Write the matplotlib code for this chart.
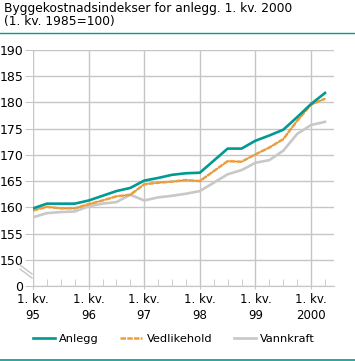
import matplotlib
matplotlib.use("Agg")
import matplotlib.pyplot as plt
from matplotlib.lines import Line2D

# quarterly index values, 1. kv. 1995 .. 2. kv. 2000
anlegg = [159.8, 160.7, 160.7, 160.7, 161.3, 162.2, 163.1, 163.7,
          165.1, 165.6, 166.2, 166.5, 166.6, 168.9, 171.2, 171.2,
          172.7, 173.7, 174.8, 177.2, 179.7, 181.8]
vedlikehold = [159.4, 160.1, 159.8, 159.8, 160.6, 161.3, 162.1, 162.4,
               164.4, 164.7, 164.9, 165.2, 165.0, 166.9, 168.8, 168.7,
               170.1, 171.4, 173.0, 176.5, 179.6, 180.7]
vannkraft = [158.1, 158.9, 159.1, 159.2, 160.2, 160.7, 161.0, 162.4,
             161.3, 161.9, 162.2, 162.6, 163.1, 164.7, 166.3, 167.1,
             168.5, 169.0, 170.8, 174.0, 175.7, 176.3]
year_labels = ["1. kv.\n95", "1. kv.\n96", "1. kv.\n97", "1. kv.\n98",
               "1. kv.\n99", "1. kv.\n2000"]
y_ticks = [145, 150, 155, 160, 165, 170, 175, 180, 185, 190]
y_labels = ["0", "150", "155", "160", "165", "170", "175", "180", "185", "190"]

TEAL = "#009a93"
ORANGE = "#f49c35"
GRAY = "#c8c8c8"
GRID = "#c6c6c6"

plt.rcParams["font.family"] = ["DejaVu Sans"]

fig = plt.figure(figsize=(3.55, 3.61), dpi=100)
ax = fig.add_axes([33 / 355, 75 / 361, 301 / 355, 236 / 361])

x = list(range(len(anlegg)))
ax.plot(x, vannkraft, color=GRAY, lw=1.9, solid_joinstyle="round")
ax.plot(x, vedlikehold, color="#7f9a6a", lw=0.8)
ax.plot(x, vedlikehold, color=ORANGE, lw=1.8, ls=(0, (2.2, 0.5)))
ax.plot(x, anlegg, color=TEAL, lw=1.9, solid_joinstyle="round")

ax.set_xlim(0, 21.65)
ax.set_ylim(145, 190)
ax.set_yticks(y_ticks)
ax.set_yticklabels(y_labels)
ax.set_xticks([0, 4, 8, 12, 16, 20])
ax.set_xticklabels(year_labels, linespacing=1.3)
ax.set_xticks(range(1, 22), minor=True)

ax.grid(True, color=GRID, lw=1.0)
ax.set_axisbelow(True)
for side in ("top", "right", "left"):
    ax.spines[side].set_visible(False)
ax.spines["bottom"].set_color(GRID)
ax.tick_params(axis="y", length=6, color=GRID, labelsize=9, pad=1)
ax.tick_params(axis="x", which="major", length=2, color=GRID, labelsize=8.5, pad=3)
ax.tick_params(axis="x", which="minor", direction="in", length=5, color=GRID)

# axis break between 0 and 150
for dy in (0, 4):
    fig.add_artist(Line2D([20 / 355, 32 / 355],
                          [1 - (265 + dy) / 361, 1 - (274 + dy) / 361],
                          color=GRID, lw=1.0))

fig.text(4 / 355, 1 - 2 / 361,
         "Byggekostnadsindekser for anlegg. 1. kv. 2000\n(1. kv. 1985=100)",
         ha="left", va="top", fontsize=8.8, linespacing=1.05)
fig.add_artist(Line2D([0, 1], [1 - 33 / 361, 1 - 33 / 361], color=TEAL, lw=1.0))
fig.add_artist(Line2D([0, 1], [1 / 361, 1 / 361], color=TEAL, lw=1.2))

handles = [Line2D([], [], color=TEAL, lw=1.9),
           Line2D([], [], color=ORANGE, lw=1.8, ls=(0, (2.2, 0.5))),
           Line2D([], [], color=GRAY, lw=1.9)]
fig.legend(handles, ["Anlegg", "Vedlikehold", "Vannkraft"], ncol=3,
           loc="center", bbox_to_anchor=(0.49, 1 - 339 / 361), frameon=False,
           fontsize=8.2, handlelength=1.9, handletextpad=0.4, columnspacing=1.9)

fig.savefig("out.png", dpi=100)
